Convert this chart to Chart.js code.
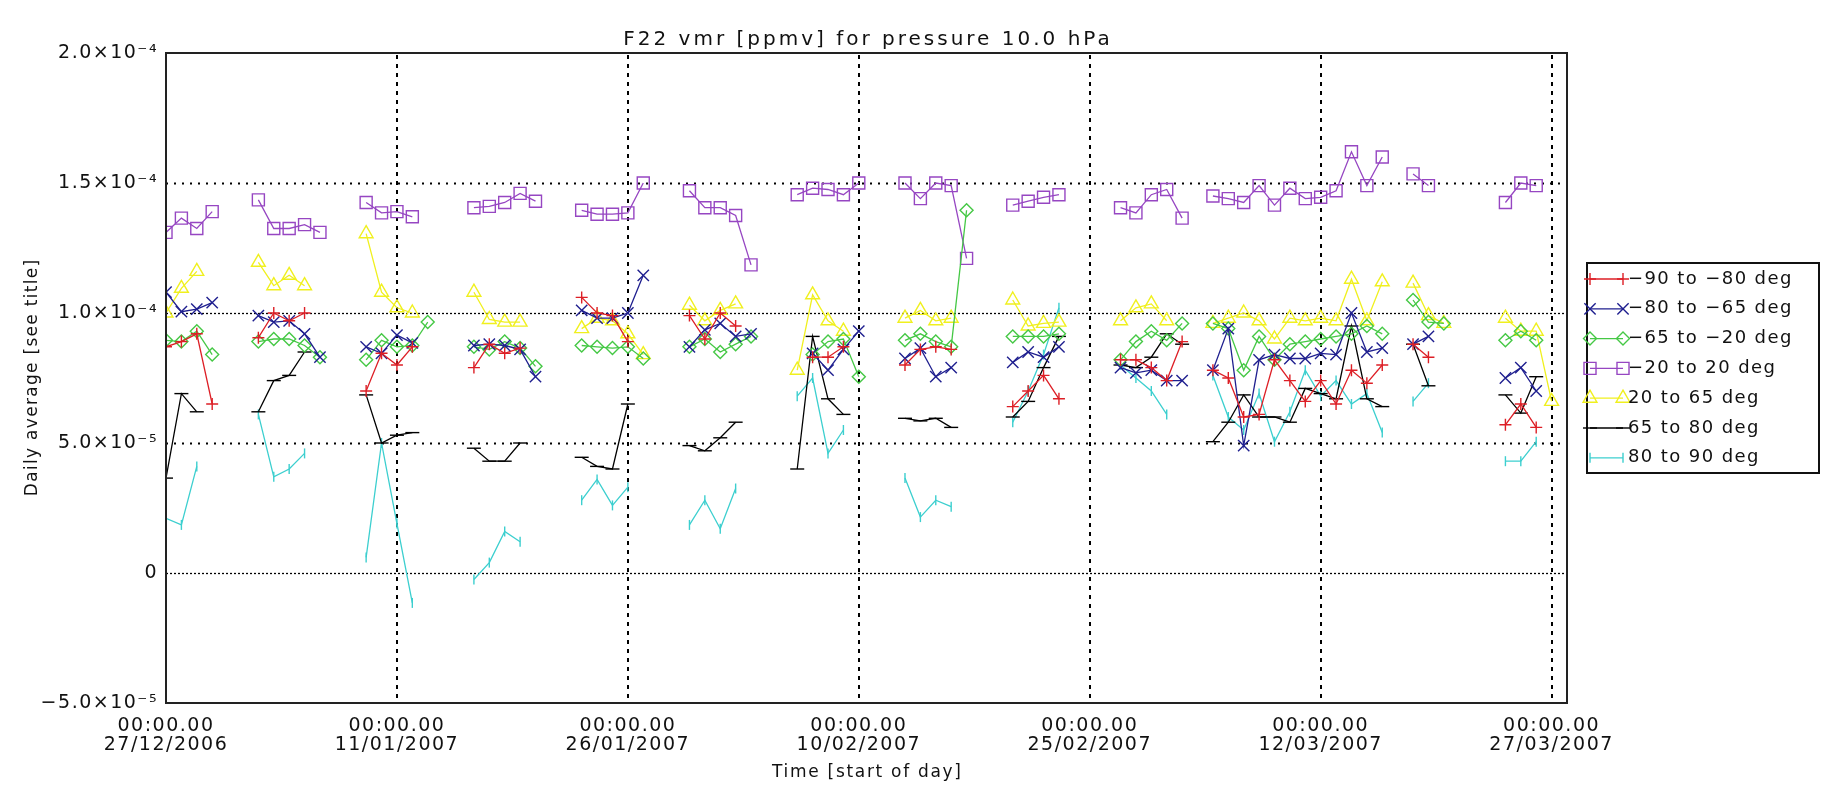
<!DOCTYPE html>
<html>
<head>
<meta charset="utf-8">
<script src="https://cdn.jsdelivr.net/npm/chart.js@4.4.1/dist/chart.umd.min.js"></script>
<style>
  html, body { margin: 0; padding: 0; background: #ffffff; }
  #wrap { width: 1825px; height: 799px; position: relative; }
</style>
</head>
<body>
<div id="wrap"><canvas id="c" width="1825" height="799"></canvas></div>
<script>
// ---------------- DATA (values in units of 1e-5 ppmv) ----------------
const TITLE = 'F22 vmr [ppmv] for pressure 10.0 hPa';
const X_TITLE = 'Time [start of day]';
const Y_TITLE = 'Daily average [see title]';

// day index since 27/12/2006
const DAYS = [0,1,2,3,4,5,6,7,8,9,10,11,12,13,14,15,16,17,18,19,20,21,22,23,24,25,26,27,28,29,30,
  31,32,33,34,35,36,37,38,39,40,41,42,43,44,45,46,47,48,49,50,51,52,53,54,55,56,57,58,59,60,
  61,62,63,64,65,66,67,68,69,70,71,72,73,74,75,76,77,78,79,80,81,82,83,84,85,86,87,88,89,90];

const X_TICKS = [0, 15, 30, 45, 60, 75, 90];
const X_TICK_LABELS = [
  ['00:00.00', '27/12/2006'], ['00:00.00', '11/01/2007'], ['00:00.00', '26/01/2007'],
  ['00:00.00', '10/02/2007'], ['00:00.00', '25/02/2007'], ['00:00.00', '12/03/2007'],
  ['00:00.00', '27/03/2007']
];
const Y_TICKS = [-5, 0, 5, 10, 15, 20];
const Y_TICK_LABELS = ['\u22125.0\u00d710\u207b\u2075', '0', '5.0\u00d710\u207b\u2075',
  '1.0\u00d710\u207b\u2074', '1.5\u00d710\u207b\u2074', '2.0\u00d710\u207b\u2074'];

const SERIES_NAMES = ['\u221290 to \u221280 deg', '\u221280 to \u221265 deg', '\u221265 to \u221220 deg',
  '\u221220 to 20 deg', '20 to 65 deg', '65 to 80 deg', '80 to 90 deg'];

// blocks: A 0-5 | B 6-12 | C 13-19 | D 20-26 | E 27-33 | F 34-40 | G 41-47 | H 48-54 | I 55-61 | J 62-67 | K 68-80 | L 81-86 | M 87-90
const S_90_80 = [
  8.7, 8.9, 9.2, 6.5, null, null,
  9.05, 10.0, 9.7, 10.0, null, null, null,
  7.0, 8.45, 8.0, 8.7, null, null, null,
  7.9, 8.8, 8.45, 8.65, null, null, null,
  10.6, 10.0, 9.9, 8.9, null, null, null,
  9.9, 9.0, 10.0, 9.5, null, null, null,
  null, 8.3, 8.3, 8.7, null, null, null,
  8.0, 8.6, 8.7, 8.6, null, null, null,
  6.4, 7.0, 7.6, 6.7, null, null, null,
  8.2, 8.2, 7.9, 7.4, 8.9, null,
  7.8, 7.5, 6.0, 6.1, 8.2, 7.4, 6.6, 7.4, 6.5, 7.8, 7.3, 8.0, null,
  8.8, 8.3, null, null, null, null,
  5.7, 6.5, 5.6, null
];
const S_80_65 = [
  10.8, 10.05, 10.15, 10.4, null, null,
  9.9, 9.65, 9.7, 9.2, 8.3, null, null,
  8.7, 8.45, 9.15, 8.85, null, null, null,
  8.75, 8.8, 8.75, 8.6, 7.55, null, null,
  10.1, 9.8, 9.8, 10.0, 11.45, null, null,
  8.7, 9.35, 9.6, 9.1, 9.2, null, null,
  null, 8.45, 7.8, 8.6, 9.3, null, null,
  8.25, 8.65, 7.55, 7.9, null, null, null,
  8.1, 8.5, 8.3, 8.7, null, null, null,
  7.9, 7.7, 7.8, 7.4, 7.4, null,
  7.8, 9.4, 4.9, 8.2, 8.4, 8.25, 8.25, 8.45, 8.4, 10.0, 8.5, 8.65, null,
  8.8, 9.1, null, null, null, null,
  7.5, 7.9, 7.0, null
];
const S_65_20 = [
  8.95, 8.9, 9.3, 8.4, null, null,
  8.9, 9.0, 9.0, 8.75, 8.3, null, null,
  8.2, 8.95, 8.7, 8.75, 9.65, null, null,
  8.7, 8.6, 8.9, 8.65, 7.95, null, null,
  8.75, 8.7, 8.65, 8.7, 8.25, null, null,
  8.7, 9.0, 8.5, 8.8, 9.1, null, null,
  null, 8.4, 8.9, 9.0, 7.55, null, null,
  8.95, 9.2, 8.9, 8.7, 13.95, null, null,
  9.1, 9.1, 9.1, 9.2, null, null, null,
  8.2, 8.9, 9.3, 8.95, 9.6, null,
  9.6, 9.4, 7.8, 9.1, 8.2, 8.8, 8.9, 9.0, 9.1, 9.2, 9.5, 9.2, null,
  10.5, 9.65, 9.6, null, null, null,
  8.95, 9.3, 8.95, null
];
const S_20_20 = [
  13.1, 13.65, 13.25, 13.9, null, null,
  14.35, 13.25, 13.25, 13.4, 13.1, null, null,
  14.25, 13.85, 13.9, 13.7, null, null, null,
  14.05, 14.1, 14.25, 14.6, 14.3, null, null,
  13.95, 13.8, 13.8, 13.85, 15.0, null, null,
  14.7, 14.05, 14.05, 13.75, 11.85, null, null,
  14.55, 14.8, 14.75, 14.55, 15.0, null, null,
  15.0, 14.4, 15.0, 14.9, 12.1, null, null,
  14.15, 14.3, 14.45, 14.55, null, null, null,
  14.05, 13.85, 14.55, 14.75, 13.65, null,
  14.5, 14.4, 14.25, 14.9, 14.15, 14.8, 14.4, 14.45, 14.7, 16.2, 14.9, 16.0, null,
  15.35, 14.9, null, null, null, null,
  14.25, 15.0, 14.9, null
];
const S_20_65 = [
  10.0, 10.95, 11.6, null, null, null,
  11.95, 11.05, 11.45, 11.05, null, null, null,
  13.05, 10.8, 10.2, 10.0, null, null, null,
  10.8, 9.75, 9.65, 9.65, null, null, null,
  9.4, 9.8, 9.7, 9.2, 8.4, null, null,
  10.3, 9.7, 10.1, 10.35, null, null, null,
  7.8, 10.7, 9.7, 9.3, null, null, null,
  9.8, 10.1, 9.7, 9.8, null, null, null,
  10.5, 9.5, 9.6, 9.65, null, null, null,
  9.7, 10.2, 10.35, 9.7, null, null,
  9.6, 9.8, 10.0, 9.7, 9.0, 9.8, 9.7, 9.8, 9.7, 11.3, 9.7, 11.2, null,
  11.15, 9.9, 9.6, null, null, null,
  9.8, 9.3, 9.3, 6.6
];
const S_65_80 = [
  3.65, 6.9, 6.2, null, null, null,
  6.2, 7.4, 7.6, 8.5, null, null, null,
  6.85, 5.0, 5.3, 5.4, null, null, null,
  4.8, 4.3, 4.3, 5.0, null, null, null,
  4.45, 4.1, 4.0, 6.5, null, null, null,
  4.9, 4.7, 5.2, 5.8, null, null, null,
  4.0, 9.1, 6.7, 6.1, null, null, null,
  5.95, 5.85, 5.95, 5.6, null, null, null,
  6.0, 6.6, 7.9, 9.1, null, null, null,
  8.0, 7.9, 8.3, 9.2, 8.8, null,
  5.05, 5.8, 6.85, 6.0, 6.0, 5.8, 7.1, 6.9, 6.7, 9.5, 6.7, 6.4, null,
  8.8, 7.2, null, null, null, null,
  6.85, 6.15, 7.55, null
];
const S_80_90 = [
  2.1, 1.85, 4.1, null, null, null,
  6.1, 3.7, 4.0, 4.6, null, null, null,
  0.6, 5.0, 1.9, -1.15, null, null, null,
  -0.25, 0.4, 1.6, 1.2, null, null, null,
  2.8, 3.6, 2.6, 3.3, null, null, null,
  1.85, 2.8, 1.7, 3.25, null, null, null,
  6.8, 7.5, 4.6, 5.5, null, null, null,
  3.65, 2.15, 2.8, 2.55, null, null, null,
  5.8, 7.0, 8.4, 10.2, null, null, null,
  8.0, 7.5, 7.0, 6.1, null, null,
  7.6, 6.0, 5.5, 6.9, 5.05, 6.2, 7.8, 6.8, 7.4, 6.5, 6.9, 5.4, null,
  6.6, 7.3, null, null, null, null,
  4.3, 4.3, 5.05, null
];

// ---------------- STYLE ----------------
const FONT = '"DejaVu Sans", "Liberation Sans", sans-serif';
const STYLES = [
  { color: '#dd1f26', pointStyle: 'cross',    radius: 6,   rotation: 0 },
  { color: '#1f1f8f', pointStyle: 'crossRot', radius: 8,   rotation: 0 },
  { color: '#45c845', pointStyle: 'rectRot',  radius: 6.5, rotation: 0 },
  { color: '#9646c2', pointStyle: 'rect',     radius: 8.5, rotation: 0 },
  { color: '#f0f01e', pointStyle: 'triangle', radius: 8,   rotation: 0 },
  { color: '#000000', pointStyle: 'line',     radius: 7,   rotation: 0 },
  { color: '#3ccfcf', pointStyle: 'line',     radius: 5,   rotation: 90 }
];
const SERIES = [S_90_80, S_80_65, S_65_20, S_20_20, S_20_65, S_65_80, S_80_90];

const datasets = SERIES.map((d, i) => ({
  label: SERIES_NAMES[i],
  data: d,
  borderColor: STYLES[i].color,
  backgroundColor: 'rgba(0,0,0,0)',
  borderWidth: 1.3,
  pointStyle: STYLES[i].pointStyle,
  pointRadius: STYLES[i].radius,
  pointRotation: STYLES[i].rotation,
  pointBorderWidth: 1.4,
  pointBorderColor: STYLES[i].color,
  pointBackgroundColor: 'rgba(0,0,0,0)',
  pointHoverRadius: STYLES[i].radius,
  spanGaps: false,
  tension: 0
}));

function spacing(ctx, px) { if ('letterSpacing' in ctx) ctx.letterSpacing = px + 'px'; }

function spacedText(ctx, text, x, y, font, ls, align) {
  ctx.save();
  ctx.font = font;
  spacing(ctx, ls);
  ctx.fillStyle = '#111';
  ctx.textBaseline = 'middle';
  let w = ctx.measureText(text).width;
  let sx = x;
  if (align === 'center') sx = x - (w - ls) / 2;
  else if (align === 'right') sx = x - (w - ls);
  ctx.textAlign = 'left';
  ctx.fillText(text, sx, y);
  ctx.restore();
}

const decor = {
  id: 'decor',
  beforeLayout(chart) { spacing(chart.ctx, 1.5); },
  beforeDraw(chart) { spacing(chart.ctx, 1.5); },
  beforeDatasetsDraw(chart) {
    const { ctx, chartArea: a, scales: { x, y } } = chart;
    ctx.save();
    ctx.strokeStyle = '#000';
    // horizontal grid lines
    Y_TICKS.forEach(v => {
      if (v === Y_TICKS[0] || v === Y_TICKS[Y_TICKS.length - 1]) return;
      const py = Math.round(y.getPixelForValue(v)) + 0.5;
      const dense = (v === 0 || v === 10);
      ctx.lineWidth = dense ? 1.3 : 1.8;
      ctx.setLineDash(dense ? [2, 2] : [2, 6]);
      ctx.beginPath(); ctx.moveTo(a.left, py); ctx.lineTo(a.right, py); ctx.stroke();
    });
    // vertical grid lines
    X_TICKS.forEach(v => {
      if (v === X_TICKS[0]) return;
      const px = Math.round(x.getPixelForValue(v));
      ctx.lineWidth = 2;
      ctx.setLineDash([4, 5]);
      ctx.beginPath(); ctx.moveTo(px, a.top + 2); ctx.lineTo(px, a.bottom); ctx.stroke();
    });
    ctx.restore();
  },
  afterDraw(chart) {
    const { ctx, chartArea: a } = chart;
    ctx.save();
    // frame
    ctx.setLineDash([]);
    ctx.strokeStyle = '#222';
    ctx.lineWidth = 2;
    ctx.strokeRect(a.left, a.top, a.right - a.left, a.bottom - a.top);
    ctx.restore();

    const cx = (a.left + a.right) / 2;
    spacedText(ctx, TITLE, cx, 40, '20px ' + FONT, 3, 'center');
    spacedText(ctx, X_TITLE, cx, 773, '17px ' + FONT, 1.7, 'center');
    ctx.save();
    ctx.translate(33, (a.top + a.bottom) / 2);
    ctx.rotate(-Math.PI / 2);
    spacedText(ctx, Y_TITLE, 0, 0, '17px ' + FONT, 1.3, 'center');
    ctx.restore();

    // legend
    const L = { x0: 1587, y0: 263, x1: 1819, y1: 473 };
    ctx.save();
    ctx.strokeStyle = '#111';
    ctx.lineWidth = 2;
    ctx.setLineDash([]);
    ctx.strokeRect(L.x0, L.y0, L.x1 - L.x0, L.y1 - L.y0);
    chart.data.datasets.forEach((ds, i) => {
      const yy = 279 + i * 29.8;
      const xa = 1590, xb = 1623;
      ctx.strokeStyle = ds.borderColor;
      ctx.fillStyle = 'rgba(0,0,0,0)';
      ctx.lineWidth = 1.3;
      ctx.beginPath(); ctx.moveTo(xa, yy); ctx.lineTo(xb, yy); ctx.stroke();
      const opts = { pointStyle: ds.pointStyle, rotation: ds.pointRotation, radius: ds.pointRadius, borderWidth: 1.4 };
      if (Chart.helpers && Chart.helpers.drawPoint) {
        ctx.lineWidth = 1.4;
        Chart.helpers.drawPoint(ctx, opts, xa, yy);
        Chart.helpers.drawPoint(ctx, opts, xb, yy);
      }
      spacedText(ctx, ds.label, 1628, yy, '18px ' + FONT, 1.4, 'left');
    });
    ctx.restore();
  }
};

const tickFont = { family: FONT, size: 19, lineHeight: 1.0 };

new Chart(document.getElementById('c'), {
  type: 'line',
  data: { labels: DAYS, datasets },
  options: {
    responsive: false,
    animation: false,
    events: [],
    layout: { padding: { left: 0, right: 258, top: 53, bottom: 0 } },
    plugins: { legend: { display: false }, title: { display: false }, tooltip: { enabled: false } },
    scales: {
      x: {
        type: 'linear',
        min: 0, max: 91,
        afterFit(s) { s.height = 96; },
        afterBuildTicks(s) { s.ticks = X_TICKS.map(v => ({ value: v })); },
        grid: { display: false, drawTicks: false },
        border: { display: false },
        ticks: {
          autoSkip: false, maxRotation: 0, minRotation: 0, padding: 14,
          color: '#111', font: tickFont,
          callback(v) { const k = X_TICKS.indexOf(v); return k >= 0 ? X_TICK_LABELS[k] : ''; }
        }
      },
      y: {
        type: 'linear',
        min: -5, max: 20,
        afterFit(s) { s.width = 166; },
        afterBuildTicks(s) { s.ticks = Y_TICKS.map(v => ({ value: v })); },
        grid: { display: false, drawTicks: false },
        border: { display: false },
        ticks: {
          padding: 8, color: '#111', font: tickFont,
          callback(v) { const k = Y_TICKS.indexOf(v); return k >= 0 ? Y_TICK_LABELS[k] : ''; }
        }
      }
    }
  },
  plugins: [decor]
});
</script>
</body>
</html>
